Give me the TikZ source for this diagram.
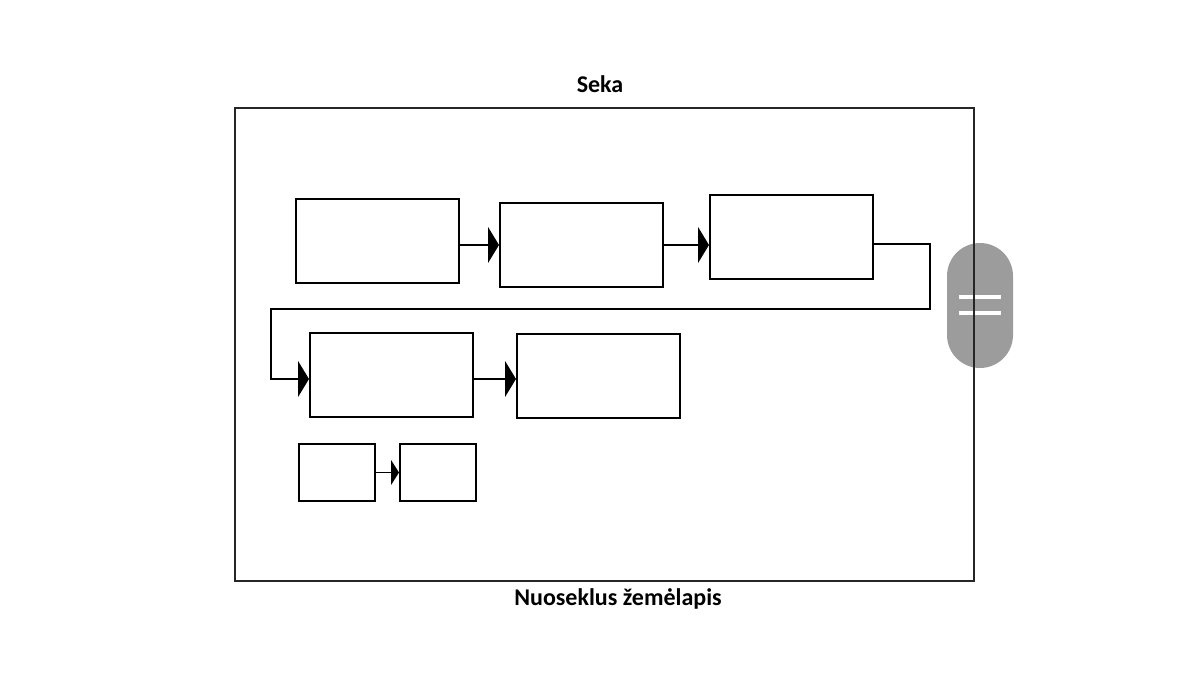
\documentclass[tikz,border=0pt]{standalone}
\usepackage{fontspec}
\setmainfont{Carlito}
\usetikzlibrary{arrows.meta}
\definecolor{pillgray}{HTML}{9C9C9C}
\begin{document}
\begin{tikzpicture}[x=0.5pt,y=-0.5pt,
  bigbox/.style={draw=black,line width=1pt,fill=white,inner sep=0pt,minimum width=81.5pt,minimum height=42pt},
  smallbox/.style={draw=black,line width=1pt,fill=white,inner sep=0pt,minimum width=38pt,minimum height=28.5pt},
  conn/.style={draw=black,line width=0.65pt},
  tipbig/.style={-{Triangle[length=5.5pt,width=18pt]}},
  tipsmall/.style={-{Triangle[length=4pt,width=12.5pt]}},
  title/.style={font=\bfseries\fontsize{12pt}{14pt}\selectfont,inner sep=0pt}]
\useasboundingbox (0,0) rectangle (1200,675);
\fill[white] (0,0) rectangle (1200,675);
% titles
\node[title] (seka) at (600,84) {Seka};
\node[title] (nuo) at (618,599) {Nuoseklus žemėlapis};
% pill
\node[fill=pillgray,draw=none,rounded corners=16.5pt,minimum width=33pt,minimum height=62.5pt,inner sep=0pt] (pill) at (980,305.5) {};
\draw[white,line width=2pt] (959,297) coordinate (p1) -- (1001,297) coordinate (p2);
\draw[white,line width=2pt] (959,313) coordinate (p3) -- (1001,313) coordinate (p4);
% frame
\node[draw=black!85,line width=0.7pt,inner sep=0pt,minimum width=369.5pt,minimum height=236.5pt] (frame) at (604.5,344.5) {};
% boxes
\node[bigbox] (A) at (377.5,241) {};
\node[bigbox] (B) at (581.5,245) {};
\node[bigbox] (C) at (791.5,237) {};
\node[bigbox] (D) at (391.5,375) {};
\node[bigbox] (E) at (598.5,375.5) {};
\node[smallbox] (F) at (337,472.5) {};
\node[smallbox] (G) at (438,472.5) {};
% connectors
\draw[conn,tipbig] (A.east |- B.west) -- (B.west);
\draw[conn,tipbig] (B.east) -- (B.east -| C.west);
\coordinate (c1) at (930,244);
\coordinate (c2) at (930,309);
\coordinate (c3) at (271,309);
\coordinate (c4) at (271,379);
\draw[conn,tipbig] (C.east |- c1) -- (c1) -- (c2) -- (c3) -- (c4) -- (c4 -| D.west);
\draw[conn,tipbig] (D.east |- 0,379) -- (E.west |- 0,379);
\draw[conn,tipsmall] (F.east) -- (G.west);
\end{tikzpicture}
\end{document}
